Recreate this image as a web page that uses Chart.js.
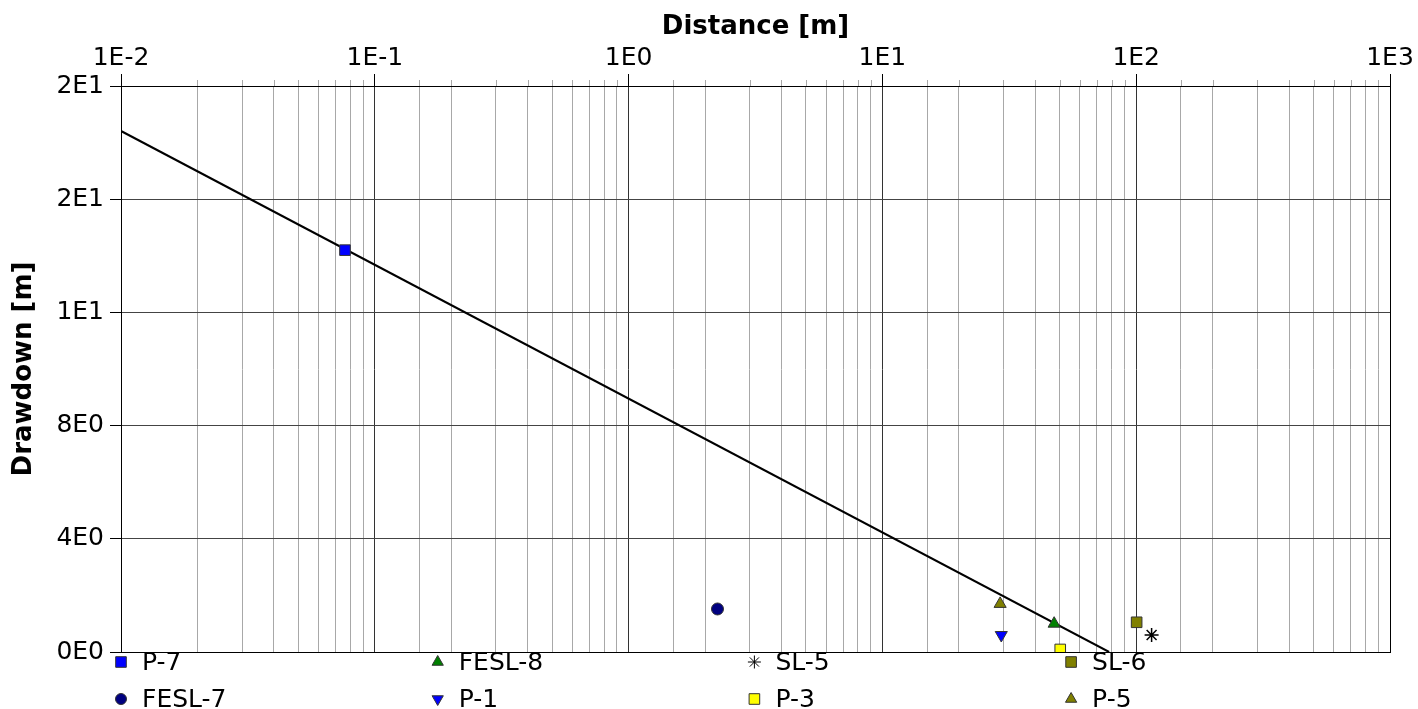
<html>
<head>
    <title>Drawdown vs Distance</title>
    <script src="https://cdn.jsdelivr.net/npm/chart.js"></script>
    <style>
        body { margin: 0; background: #fff; }
    </style>
</head>
<body>
<div>
    <canvas id="graph" width="1418" height="709" role="img"></canvas>
</div>
<script>
    const wellNames = ['P-7', 'FESL-7', 'FESL-8', 'P-1', 'SL-5', 'P-3', 'SL-6', 'P-5'];
    const wellDistance = [0.0763, 2.24, 47.5, 29.4, 115, 50.2, 100.4, 29.1];
    const wellDrawdown = [14.2, 1.52, 1.0, 0.6, 0.6, 0.09, 1.05, 1.7];

    // straight line fit
    const fitDistance = [0.01, 78.2];
    const fitDrawdown = [18.41, 0];

    // marker styles
    const wellColors = ['#0000ff', '#000080', '#008000', '#0000ff', '#000000', '#ffff00', '#808000', '#808000'];
    const wellShapes = ['rect', 'circle', 'triangle', 'triangle', 'star', 'rect', 'rect', 'triangle'];
    const wellRotation = [0, 0, 0, 180, 0, 0, 0, 0];
    const wellRadius = [7.5, 6, 7, 7, 7, 7.5, 7.5, 7];
    const legendRadius = {rect: 7.5, circle: 5.5, triangle: 6.5, star: 6.5};

    Chart.defaults.font.family = '"DejaVu Sans", Verdana, sans-serif';
    Chart.defaults.color = '#000';

    function isMajor(v) {
        const l = Math.log10(v);
        return Math.abs(l - Math.round(l)) < 1e-9;
    }
    function fmt_exp(v) {
        return Number(v).toExponential(0).replace('e+', 'E').replace('e', 'E');
    }

    const datasets = [{
        type: 'line',
        label: 'fit',
        data: fitDistance.map((x, i) => ({x: x, y: fitDrawdown[i]})),
        borderColor: '#000',
        borderWidth: 2,
        pointRadius: 0,
        fill: false,
        order: 10
    }];
    wellNames.forEach((name, i) => {
        datasets.push({
            label: name,
            data: [{x: wellDistance[i], y: wellDrawdown[i]}],
            pointStyle: wellShapes[i],
            rotation: wellRotation[i],
            pointRadius: wellRadius[i],
            backgroundColor: wellColors[i],
            borderColor: wellShapes[i] === 'star' ? '#000' : '#333',
            borderWidth: wellShapes[i] === 'star' ? 1.5 : 1,
            order: 1
        });
    });

    // frame, minor ticks and the 4-column legend
    const extras = {
        id: 'extras',
        afterDraw(chart) {
            const ctx = chart.ctx;
            const a = chart.chartArea;
            const xs = chart.scales.x;
            ctx.save();
            ctx.lineWidth = 1;
            ctx.strokeStyle = '#a8a8a8';
            xs.ticks.forEach(t => {
                if (!isMajor(t.value)) {
                    const px = Math.round(xs.getPixelForValue(t.value)) + 0.5;
                    ctx.beginPath();
                    ctx.moveTo(px, a.top);
                    ctx.lineTo(px, a.top - 6);
                    ctx.stroke();
                }
            });
            ctx.strokeStyle = '#000';
            ctx.strokeRect(Math.round(a.left) + 0.5, Math.round(a.top) + 0.5,
                Math.round(a.right - a.left), Math.round(a.bottom - a.top));

            ctx.font = '25px "DejaVu Sans", Verdana, sans-serif';
            ctx.textBaseline = 'middle';
            ctx.textAlign = 'left';
            wellNames.forEach((name, i) => {
                const col = Math.floor(i / 2), row = i % 2;
                const mx = a.left + col * 316.7;
                const my = 662 + row * 37;
                ctx.fillStyle = wellColors[i];
                ctx.strokeStyle = wellShapes[i] === 'star' ? '#000' : '#333';
                Chart.helpers.drawPoint(ctx, {
                    pointStyle: wellShapes[i],
                    rotation: wellRotation[i],
                    radius: legendRadius[wellShapes[i]],
                    borderWidth: wellShapes[i] === 'star' ? 1.5 : 1
                }, mx, my);
                ctx.fillStyle = '#000';
                ctx.fillText(name, mx + 21, my + 1);
            });
            ctx.restore();
        }
    };

    const config = {
        type: 'scatter',
        data: {datasets: datasets},
        options: {
            responsive: false,
            animation: false,
            layout: {padding: {left: 0, right: 28, top: 0, bottom: 57}},
            plugins: {legend: {display: false}, tooltip: {enabled: false}},
            scales: {
                x: {
                    type: 'logarithmic',
                    position: 'top',
                    min: 0.01,
                    max: 1000,
                    title: {display: true, text: 'Distance [m]', color: '#000',
                        font: {size: 26, weight: 'bold'}, padding: {top: 12, bottom: 0}},
                    ticks: {
                        autoSkip: false, maxRotation: 0, color: '#000',
                        font: {size: 25}, padding: 1,
                        callback: (v) => isMajor(v) ? '1E' + Math.round(Math.log10(v)) : ''
                    },
                    grid: {
                        color: (c) => (c.tick && isMajor(c.tick.value)) ? '#333' : '#a8a8a8',
                        tickColor: (c) => (c.tick && isMajor(c.tick.value)) ? '#000' : 'rgba(0,0,0,0)',
                        tickLength: 12,
                        lineWidth: 1
                    },
                    border: {color: '#000', width: 1},
                    afterFit: (s) => { s.height = 86; }
                },
                y: {
                    type: 'linear',
                    min: 0,
                    max: 20,
                    title: {display: true, text: 'Drawdown [m]', color: '#000',
                        font: {size: 26, weight: 'bold'}, padding: {top: 9, bottom: 0}},
                    ticks: {stepSize: 4, color: '#000', font: {size: 25}, padding: 6,
                        callback: (v) => fmt_exp(v)},
                    grid: {color: '#444', tickColor: '#000', tickLength: 11, lineWidth: 1},
                    border: {color: '#000', width: 1},
                    afterFit: (s) => { s.width = 121; }
                }
            }
        },
        plugins: [extras]
    };

    const myChart = new Chart(document.getElementById('graph'), config);
</script>
</body>
</html>
